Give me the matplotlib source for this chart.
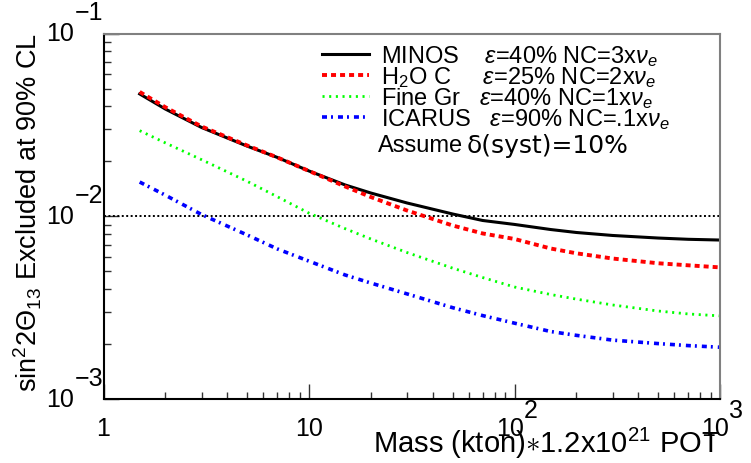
import matplotlib
matplotlib.use("Agg")
import matplotlib.pyplot as plt

plt.rcParams['font.family'] = ['Liberation Sans', 'DejaVu Sans']
plt.rcParams['mathtext.fontset'] = 'custom'
plt.rcParams['mathtext.rm'] = 'Liberation Sans'
plt.rcParams['mathtext.it'] = 'Liberation Sans:italic'
plt.rcParams['lines.scale_dashes'] = False

# masa (kton) y limites en sin^2 2theta13
mass = [1.5, 2, 3, 5, 7, 10, 15, 20, 30, 50, 70, 100, 150, 200, 300, 500, 700, 1000]
minos = [0.0467, 0.0386, 0.0306, 0.0242, 0.0210, 0.01769, 0.01483, 0.0134, 0.01182,
         0.01029, 0.00948, 0.00902, 0.00846, 0.00815, 0.00785, 0.00760, 0.00748, 0.00741]
h2o = [0.0479, 0.0395, 0.0310, 0.0244, 0.0210, 0.01769, 0.01455, 0.01274, 0.01075,
       0.00890, 0.00805, 0.00751, 0.00666, 0.00627, 0.00587, 0.00553, 0.00539, 0.00525]
finegr = [0.0294, 0.0252, 0.0204, 0.01553, 0.0128, 0.0104, 0.00855, 0.00751, 0.00633,
          0.00520, 0.00462, 0.00410, 0.00373, 0.00352, 0.00327, 0.00303, 0.00292, 0.00285]
icarus = [0.01539, 0.01304, 0.01022, 0.00790, 0.00663, 0.00568, 0.00477, 0.00431, 0.00376,
          0.00316, 0.00286, 0.00260, 0.00234, 0.00223, 0.00210, 0.00201, 0.00196, 0.00192]
cl_line = 1e-2

labels = ['MINOS    $\\varepsilon$=40% NC=3x$\\nu_e$',
          'H$_2$O C     $\\varepsilon$=25% NC=2x$\\nu_e$',
          'Fine Gr   $\\varepsilon$=40% NC=1x$\\nu_e$',
          'ICARUS   $\\varepsilon$=90% NC=.1x$\\nu_e$']
note_a = 'Assume'
note_b = '\u03b4(syst)=10%'

xticks = [1, 10, 100, 1000]
xtick_base = ['1', '10', '10', '10']
xtick_exp = ['', '', '2', '3']
yticks = [1e-3, 1e-2, 1e-1]
ytick_exp = ['\u22123', '\u22122', '\u22121']

px = 0.72  # puntos por pixel a dpi 100

fig = plt.figure(figsize=(7.51, 4.64), dpi=100)
ax = fig.add_axes([103.5 / 751, 1 - 400 / 464, 616.5 / 751, 365.5 / 464])

ax.axhline(cl_line, color='k', lw=1.4, ls=(0, (1.4, 1.8)))
l1, = ax.plot(mass, minos, color='k', lw=2.2)
l2, = ax.plot(mass, h2o, color='#ff0000', lw=2.8, ls=(0, (3.6, 2.9)))
l3, = ax.plot(mass, finegr, color='#00ff00', lw=2.0, ls=(0, (1.5, 3.3)))
l4, = ax.plot(mass, icarus, color='#0000ff', lw=2.6, ls=(0, (3.6, 2.9, 1.4, 3.6)))

ax.set_xscale('log')
ax.set_yscale('log')
ax.set_xlim(1, 1000)
ax.set_ylim(1e-3, 1e-1)

ax.tick_params(which='both', direction='in', top=False, right=False,
               labelbottom=False, labelleft=False, color='#333333')
ax.tick_params(which='major', length=15 * px, width=1)
ax.tick_params(which='minor', length=7 * px, width=1)
for s in ['left', 'bottom']:
    ax.spines[s].set_color('k')
    ax.spines[s].set_linewidth(1.5)
for s in ['top', 'right']:
    ax.spines[s].set_color('#808080')
    ax.spines[s].set_linewidth(1.5)

# etiquetas de los ejes al estilo ROOT
fs = 18
for v, e in zip(yticks, ytick_exp):
    ax.annotate('10', xy=(0, v), xycoords=('axes fraction', 'data'),
                xytext=(-30 * px, 0), textcoords='offset points',
                ha='right', va='center', fontsize=fs)
    ax.annotate(e, xy=(0, v), xycoords=('axes fraction', 'data'),
                xytext=(-29 * px, 21 * px), textcoords='offset points',
                ha='left', va='center', fontsize=fs)
for v, b, e in zip(xticks, xtick_base, xtick_exp):
    dx = 0 if e == '' else 9
    ax.annotate(b, xy=(v, 0), xycoords=('data', 'axes fraction'),
                xytext=(dx * px, -29 * px), textcoords='offset points',
                ha='center' if e == '' else 'right', va='center', fontsize=fs)
    if e:
        ax.annotate(e, xy=(v, 0), xycoords=('data', 'axes fraction'),
                    xytext=(dx * px, -11 * px), textcoords='offset points',
                    ha='left', va='center', fontsize=fs)

fig.text(720 / 751, 1 - 461 / 464, 'Mass (kton)$\\ast$1.2x10$^{21}$ POT',
         ha='right', va='bottom', fontsize=21)
fig.text(28 / 751, 1 - 33 / 464, 'sin$^{2}$2$\\mathrm{\\Theta}_{13}$ Excluded at 90% CL',
         rotation=90, ha='center', va='top', fontsize=19.5)

ax.legend([l1, l2, l3, l4], labels, loc='upper left',
          bbox_to_anchor=((322 - 103.5) / 616.5, 1 - (44 - 34.5) / 365.5),
          frameon=False, fontsize=17, handlelength=2.0, handletextpad=0.5,
          borderpad=0, borderaxespad=0, labelspacing=-0.16)
ax.text((378 - 103.5) / 616.5, 1 - (146 - 34.5) / 365.5, note_a,
        transform=ax.transAxes, ha='left', va='center', fontsize=17)
ax.text((467 - 103.5) / 616.5, 1 - (146 - 34.5) / 365.5, note_b,
        transform=ax.transAxes, ha='left', va='center', fontsize=18,
        family='DejaVu Sans')

fig.savefig('out.png', dpi=100)
